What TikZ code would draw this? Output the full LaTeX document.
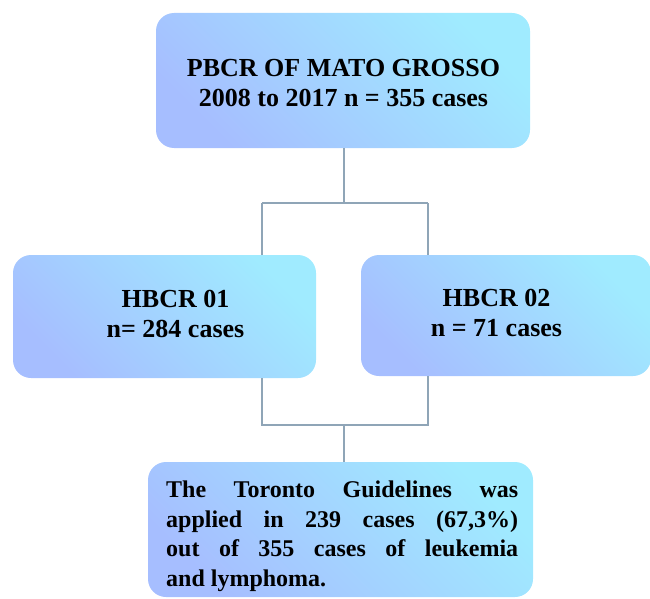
\documentclass[tikz,border=0pt]{standalone}
\usepackage{fontspec}
\setmainfont{Liberation Serif}
\definecolor{cA}{RGB}{166,190,255}
\definecolor{cB}{RGB}{160,235,255}
\definecolor{lineC}{RGB}{143,165,183}
\begin{document}
\begin{tikzpicture}[x=1pt,y=-1pt,
  box/.style={rounded corners=18pt, inner sep=0pt, shading=axis, bottom color=cA, top color=cB, shading angle=-45},
  txt/.style={font=\fontsize{26}{29.5}\selectfont\bfseries, align=center, inner sep=0pt},
  conn/.style={draw=lineC, line width=2pt}]
\useasboundingbox (0,0) rectangle (650,599);
% boxes
\node[box, minimum width=374pt, minimum height=135pt] (top) at (343,80.5) {};
\node[box, minimum width=303pt, minimum height=123pt] (left) at (164.5,316.5) {};
\node[box, minimum width=290pt, minimum height=121pt] (right) at (506,315.5) {};
\node[box, minimum width=385pt, minimum height=135pt] (bot) at (340.5,529.5) {};
% texts
\node[txt] (toptxt) at (343.5,83) {PBCR OF MATO GROSSO\\2008 to 2017 n = 355 cases};
\node[txt] (lefttxt) at (175.5,314) {HBCR 01\\n= 284 cases};
\node[txt] (righttxt) at (496.5,313) {HBCR 02\\n = 71 cases};
\node[font=\fontsize{24}{29.7}\selectfont\bfseries, text width=352pt, align=justify, inner sep=0pt, anchor=north west] (bottxt) at (166,480.5)
  {The Toronto Guidelines was\linebreak applied in 239 cases (67,3\%)\linebreak out of 355 cases of leukemia\linebreak and lymphoma.};
% connectors
\coordinate (j1) at (344,203);
\coordinate (l1) at (262,203);
\coordinate (r1) at (428,203);
\coordinate (l2) at (262,425);
\coordinate (r2) at (428,425);
\coordinate (j2) at (344,425);
\draw[conn] (top.south -| j1) -- (j1);
\draw[conn] (l1) -- (r1);
\draw[conn] (l1) -- (l1 |- left.north);
\draw[conn] (r1) -- (r1 |- right.north);
\draw[conn] (l2 |- left.south) -- (l2) -- (r2) -- (r2 |- right.south);
\draw[conn] (j2) -- (j2 |- bot.north);
\end{tikzpicture}
\end{document}
